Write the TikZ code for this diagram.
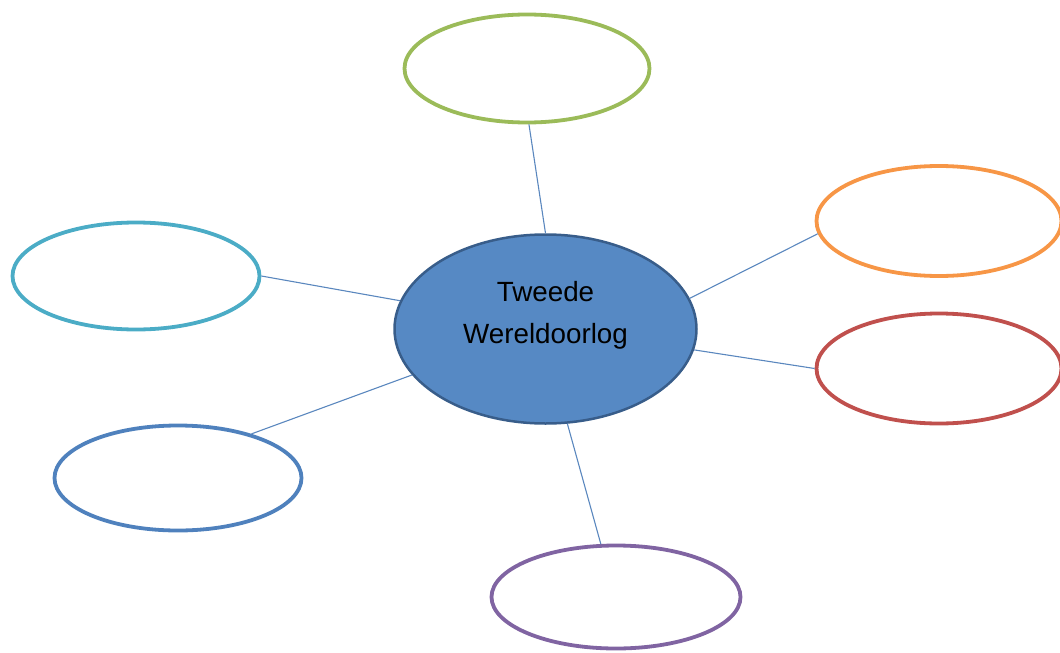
\documentclass[tikz,border=0pt]{standalone}
\usepackage{fontspec}
\setmainfont{Liberation Sans}
\usetikzlibrary{shapes.geometric}
\definecolor{cgreen}{RGB}{155,187,89}
\definecolor{corange}{RGB}{247,150,70}
\definecolor{cred}{RGB}{192,80,77}
\definecolor{cpurple}{RGB}{128,100,162}
\definecolor{cblue}{RGB}{79,129,189}
\definecolor{ccyan}{RGB}{75,172,198}
\definecolor{cfill}{RGB}{86,137,196}
\definecolor{cborder}{RGB}{56,93,138}
\definecolor{cline}{RGB}{90,135,190}
\tikzset{
  bubble/.style={ellipse, draw=#1, line width=3.8pt, fill=white, inner sep=0pt},
  centre/.style={ellipse, draw=cborder, fill=cfill, line width=2.5pt, inner sep=0pt,
    minimum width=302pt, minimum height=189pt},
  link/.style={draw=cline, line width=1.1pt},
  title/.style={font=\fontsize{27.8}{42}\selectfont, align=center, inner sep=0pt, text=black}
}
\begin{document}
\begin{tikzpicture}[x=1pt,y=-1pt]
\useasboundingbox (0,0) rectangle (1060,653);
\node[centre] (c) at (545.5,329) {};
\node[title] (t) at (545.5,315) {Tweede\\Wereldoorlog};
\node[bubble=cgreen, minimum width=245pt, minimum height=108pt] (g) at (527,68.5) {};
\node[bubble=corange, minimum width=245pt, minimum height=110pt] (o) at (939,221) {};
\node[bubble=cred, minimum width=245pt, minimum height=110pt] (r) at (939,368.5) {};
\node[bubble=cpurple, minimum width=249pt, minimum height=103pt] (p) at (616,597) {};
\node[bubble=cblue, minimum width=247pt, minimum height=105pt] (b) at (178,478) {};
\node[bubble=ccyan, minimum width=247pt, minimum height=107pt] (y) at (136,276) {};
\draw[link] (c.90) -- (g.272);
\draw[link] (c.12.7) -- (o.186.5);
\draw[link] (c.-8.3) -- (r.180);
\draw[link] (c.-77.2) -- (p.106.8);
\draw[link] (c.199.8) -- (b.31.5);
\draw[link] (c.169.7) -- (y.0);
\end{tikzpicture}
\end{document}
